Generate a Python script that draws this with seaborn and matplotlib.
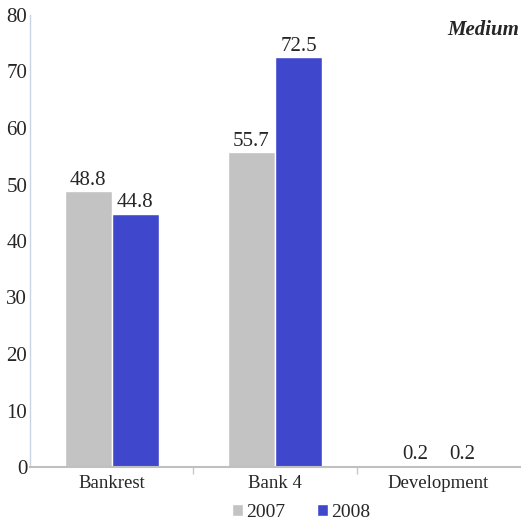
import matplotlib
matplotlib.use("Agg")
import matplotlib.pyplot as plt
import seaborn as sns
import pandas as pd

categories = ["Bankrest", "Bank 4", "Development"]
years = ["2007", "2008"]
values_2007 = [48.8, 55.7, 0.2]
values_2008 = [44.8, 72.5, 0.2]
yticks = [0, 10, 20, 30, 40, 50, 60, 70, 80]
panel_title = "Medium"

df = pd.DataFrame({
    "category": categories * 2,
    "year": [years[0]] * 3 + [years[1]] * 3,
    "value": values_2007 + values_2008,
})

sns.set_theme(style="white")
plt.rcParams["font.family"] = ["Liberation Serif", "DejaVu Serif"]

fig = plt.figure(figsize=(5.21, 5.28), dpi=100)
ax = fig.add_axes([30 / 521, 1 - 467 / 528, 490 / 521, 452 / 528])

palette = {"2007": "#C3C3C3", "2008": "#3F48CD"}
sns.barplot(data=df, x="category", y="value", hue="year", palette=palette,
            width=0.575, saturation=1, ax=ax, legend=True)

for cont in ax.containers:
    ax.bar_label(cont, fmt="%.1f", fontsize=15, padding=1)

ax.set_ylim(0, 80)
ax.set_xlim(-0.5, 2.5)
ax.set_yticks(yticks)
ax.set_yticklabels([str(t) for t in yticks], fontsize=15)
ax.set_xlabel("")
ax.set_ylabel("")
ax.tick_params(axis="x", which="major", length=0, labelsize=13.5, pad=6)
ax.tick_params(axis="y", length=0, pad=2)
ax.set_xticks([0.5, 1.5], minor=True)
ax.tick_params(axis="x", which="minor", length=5, color="#C8C8C8", bottom=True)

for s in ["top", "right"]:
    ax.spines[s].set_visible(False)
ax.spines["left"].set_color("#C8D4E4")
ax.spines["bottom"].set_color("#C0C0C0")
ax.spines["left"].set_linewidth(1.0)
ax.spines["bottom"].set_linewidth(1.5)

ax.text(0.998, 0.99, panel_title, transform=ax.transAxes, ha="right", va="top",
        fontsize=15, fontweight="bold", fontstyle="italic")

leg = ax.legend(loc="center", bbox_to_anchor=(0.553, -0.1), ncol=2, frameon=False,
                fontsize=14, handlelength=0.6, handleheight=0.6, handletextpad=0.15,
                columnspacing=1.6, borderpad=0)

fig.savefig("out.png", dpi=100)
